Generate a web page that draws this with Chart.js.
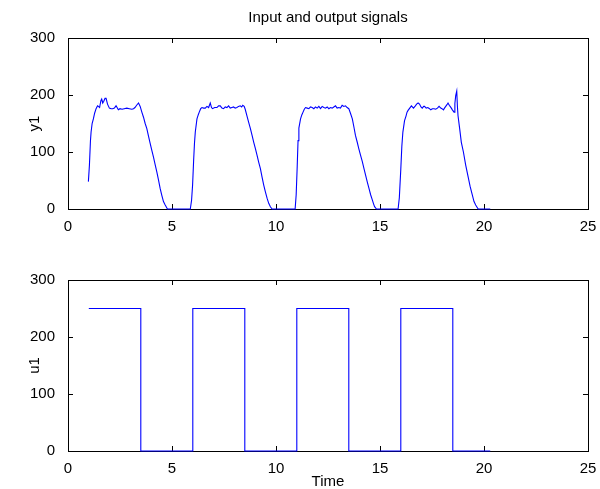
<!DOCTYPE html>
<html lang="en">
<head>
<meta charset="UTF-8" />
<title>Input and output signals</title>
<script src="https://cdn.jsdelivr.net/npm/chart.js"></script>
<style>
  body { margin: 0; background: #fff; }
  .panel { position: absolute; left: 0; }
</style>
</head>
<body>
  <canvas id="topChart" class="panel" style="top:0" width="600" height="245"></canvas>
  <canvas id="bottomChart" class="panel" style="top:245px" width="600" height="244"></canvas>

<script>
// y1 (output) samples
const yTime = [0.98, 1.03, 1.08, 1.11, 1.16, 1.22, 1.28, 1.35, 1.42, 1.46, 1.52, 1.58, 1.62, 1.67, 1.72, 1.78, 1.83, 1.9, 1.99,
  2.07, 2.15, 2.23, 2.31, 2.36, 2.42, 2.5, 2.6, 2.7, 2.83, 2.95, 3.07, 3.15, 3.22, 3.3, 3.39, 3.47, 3.55, 3.63, 3.71, 3.79,
  3.87, 3.95, 4.03, 4.11, 4.19, 4.27, 4.35, 4.43, 4.51, 4.59, 4.66, 4.72, 4.78, 5.88, 5.94, 5.99, 6.04, 6.08, 6.12, 6.2,
  6.26, 6.31, 6.38, 6.44, 6.52, 6.6, 6.68, 6.76, 6.84, 6.9, 6.95, 7.05, 7.16, 7.24, 7.32, 7.4, 7.48, 7.56, 7.64, 7.72,
  7.8, 7.88, 7.96, 8.04, 8.12, 8.2, 8.28, 8.35, 8.4, 8.47, 8.52, 8.6, 8.68, 8.77, 8.85, 8.93, 9.01, 9.09, 9.17, 9.25,
  9.33, 9.41, 9.49, 9.57, 9.65, 9.73, 9.81, 10.92, 10.97, 11.02, 11.06, 11.1, 11.18, 11.24, 11.3, 11.36, 11.42, 11.5, 11.58,
  11.66, 11.74, 11.82, 11.9, 11.98, 12.06, 12.14, 12.22, 12.3, 12.38, 12.46, 12.54, 12.62, 12.7, 12.78, 12.86, 12.94, 13.02,
  13.1, 13.18, 13.26, 13.34, 13.42, 13.5, 13.58, 13.67, 13.75, 13.82, 13.9, 13.98, 14.06, 14.15, 14.23, 14.31, 14.39, 14.47,
  14.55, 14.63, 14.69, 14.74, 14.83, 15.87, 15.93, 16.0, 16.05, 16.1, 16.18, 16.25, 16.3, 16.35, 16.43, 16.51, 16.61, 16.7,
  16.76, 16.83, 16.9, 16.97, 17.03, 17.1, 17.14, 17.22, 17.3, 17.38, 17.44, 17.52, 17.6, 17.68, 17.76, 17.84, 17.92, 17.98,
  18.05, 18.1, 18.16, 18.22, 18.27, 18.33, 18.37, 18.43, 18.48, 18.56, 18.6, 18.64, 18.69, 18.72, 18.75, 18.83, 18.91, 19.01,
  19.12, 19.25, 19.33, 19.4, 19.52, 19.6, 19.65, 19.72, 20.3];
const yValue = [48, 77, 120, 135, 150, 158, 168, 176, 181, 180, 178, 190, 193, 186, 189, 194, 194, 184, 177,
  176, 176, 177, 181, 178, 174, 176, 175, 176, 177, 176, 175, 176, 178, 182, 186, 180, 170, 161, 150, 141,
  128, 115, 103, 91, 78, 65, 51, 36, 24, 13, 8, 4, 0, 0, 15, 42, 85, 115, 135, 158,
  165, 170, 176, 178, 177, 177, 180, 178, 186, 178, 176, 178, 178, 181, 181, 177, 176, 179, 178, 181,
  177, 178, 179, 177, 178, 180, 181, 179, 182, 180, 175, 164, 153, 141, 129, 117, 106, 94, 82, 71,
  56, 42, 30, 19, 10, 4, 0, 0, 25, 75, 120, 142, 158, 165, 170, 175, 178, 177, 176,
  179, 178, 176, 179, 177, 180, 176, 180, 178, 177, 179, 176, 178, 177, 179, 181, 177, 178,
  177, 182, 180, 181, 178, 176, 168, 158, 143, 129, 118, 106, 95, 83, 71, 59, 47, 36,
  25, 16, 9, 4, 0, 0, 20, 70, 110, 135, 155, 163, 170, 173, 177, 181, 177, 181,
  184, 186, 184, 179, 177, 180, 180, 177, 178, 176, 174, 176, 176, 175, 177, 180, 177, 176,
  174, 177, 180, 183, 186, 182, 180, 177, 174, 170, 185, 199, 207, 181, 164, 141, 117, 100,
  77, 54, 40, 30, 13, 7, 4, 0, 0];

// u1 (input) switching instants and levels
const uTime = [1, 3.5, 6, 8.5, 11, 13.5, 16, 18.5, 20.3];
const uValue = [250, 0, 250, 0, 250, 0, 250, 0, 0];

const xTicks = [0, 5, 10, 15, 20, 25];
const yTicks = [0, 100, 200, 300];

const FONT = "'Liberation Sans', Arial, sans-serif";

// axes box with inward ticks on all four sides, drawn under the line
const matlabBox = {
  id: 'matlabBox',
  beforeDatasetsDraw(chart) {
    const {ctx, chartArea: a, scales: {x, y}} = chart;
    const len = 5;
    ctx.save();
    ctx.strokeStyle = '#000';
    ctx.lineWidth = 1;
    ctx.strokeRect(a.left + 0.5, a.top + 0.5, a.right - a.left, a.bottom - a.top);
    ctx.beginPath();
    xTicks.forEach(v => {
      const px = Math.round(x.getPixelForValue(v)) + 0.5;
      ctx.moveTo(px, a.bottom); ctx.lineTo(px, a.bottom - len);
      ctx.moveTo(px, a.top); ctx.lineTo(px, a.top + len);
    });
    yTicks.forEach(v => {
      const py = Math.round(y.getPixelForValue(v)) + 0.5;
      ctx.moveTo(a.left, py); ctx.lineTo(a.left + len, py);
      ctx.moveTo(a.right, py); ctx.lineTo(a.right - len, py);
    });
    ctx.stroke();
    ctx.restore();
  }
};

function makeChart(id, points, opts){
  return new Chart(document.getElementById(id), {
    type: 'line',
    data: {
      datasets: [{
        data: points,
        borderColor: '#0000ff',
        borderWidth: 1.1,
        pointRadius: 0,
        tension: 0,
        stepped: opts.stepped || false,
        clip: false
      }]
    },
    options: {
      responsive: false,
      animation: false,
      events: [],
      layout: { padding: { left: 0, right: 12, top: opts.padTop, bottom: 0 } },
      plugins: {
        legend: { display: false },
        tooltip: { enabled: false },
        title: opts.title ? {
          display: true,
          text: opts.title,
          fullSize: false,
          color: '#000',
          font: { family: FONT, size: 15, weight: 'normal' },
          padding: { top: 9, bottom: 11 }
        } : { display: false }
      },
      scales: {
        x: {
          type: 'linear',
          min: 0, max: 25,
          grid: { display: false },
          border: { display: false },
          afterBuildTicks: s => { s.ticks = xTicks.map(v => ({ value: v })); },
          afterFit: s => { s.height = opts.xHeight; },
          ticks: { color: '#000', font: { family: FONT, size: 15 }, padding: 1, maxRotation: 0 },
          title: opts.xTitle ? {
            display: true,
            text: opts.xTitle,
            color: '#000',
            font: { family: FONT, size: 15, lineHeight: 1 },
            padding: { top: 0, bottom: 0 }
          } : { display: false }
        },
        y: {
          min: 0, max: 300,
          grid: { display: false },
          border: { display: false },
          afterBuildTicks: s => { s.ticks = yTicks.map(v => ({ value: v })); },
          afterFit: s => { s.width = 68; },
          ticks: { color: '#000', font: { family: FONT, size: 15 }, padding: 5 },
          title: {
            display: true,
            text: opts.yTitle,
            color: '#000',
            font: { family: FONT, size: 15 },
            padding: { top: 26, bottom: 0 }
          }
        }
      }
    },
    plugins: [matlabBox]
  });
}

makeChart('topChart', yTime.map((t, i) => ({ x: t, y: yValue[i] })), {
  title: 'Input and output signals',
  yTitle: 'y1',
  padTop: 0,
  xHeight: 36
});

makeChart('bottomChart', uTime.map((t, i) => ({ x: t, y: uValue[i] })), {
  yTitle: 'u1',
  xTitle: 'Time',
  padTop: 35,
  xHeight: 38,
  stepped: 'before'
});
</script>
</body>
</html>
